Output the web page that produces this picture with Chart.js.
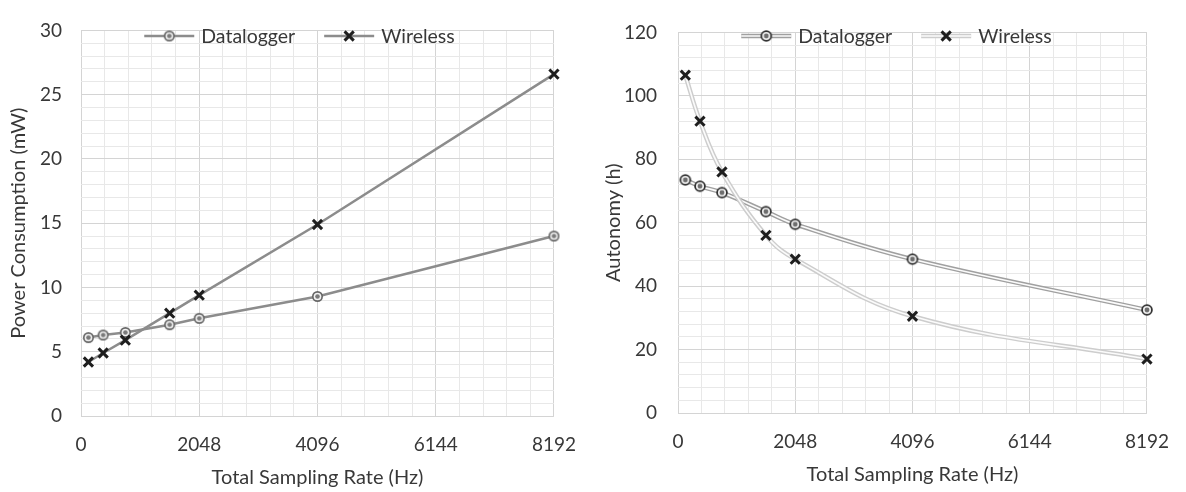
<!DOCTYPE html>
<html>
<head>
<meta charset="utf-8">
<script src="https://cdn.jsdelivr.net/npm/chart.js@4.4.0/dist/chart.umd.min.js"></script>
<style>
  html, body { margin: 0; padding: 0; background: #fff; }
  #wrap { display: flex; width: 1186px; height: 492px; }
  canvas { display: block; }
</style>
</head>
<body>
<div id="wrap">
  <canvas id="power" width="593" height="492"></canvas>
  <canvas id="autonomy" width="593" height="492"></canvas>
</div>
<script>
const samplingRates = [128, 384, 768, 1536, 2048, 4096, 8192];
const powerDatalogger = [6.1, 6.3, 6.5, 7.1, 7.6, 9.3, 14.0];
const powerWireless = [4.2, 4.9, 5.9, 8.0, 9.4, 14.9, 26.6];
const autonomyDatalogger = [73.5, 71.5, 69.5, 63.5, 59.5, 48.5, 32.5];
const autonomyWireless = [106.5, 92, 76, 56, 48.5, 30.5, 17];
const seriesNames = ['Datalogger', 'Wireless'];
const xTickLabels = [0, 2048, 4096, 6144, 8192];
const powerTickLabels = [0, 5, 10, 15, 20, 25, 30];
const autonomyTickLabels = [0, 20, 40, 60, 80, 100, 120];
const minorParts = 5;

const textColor = '#383838';
const fontFamily = 'Lato, "Open Sans", sans-serif';
Chart.defaults.font.family = fontFamily;
Chart.defaults.font.size = 19;
Chart.defaults.color = textColor;
const titleFont = { size: 20 };
const majorGrid = '#d4d4d4';
const minorGrid = '#e8e8e8';

// split each major interval into minor grid steps
function withMinor(majors) {
  const out = [];
  for (let i = 0; i < majors.length - 1; i++) {
    for (let k = 0; k < minorParts; k++) {
      out.push(k === 0 ? majors[i] : majors[i] + (majors[i + 1] - majors[i]) * k / minorParts);
    }
  }
  out.push(majors[majors.length - 1]);
  return out;
}

function toPoints(ys) {
  return samplingRates.map((x, i) => ({ x, y: ys[i] }));
}

function bullseye(outerColor, midColor, centerColor, r) {
  const c = document.createElement('canvas');
  const size = Math.ceil(r * 2 + 2);
  c.width = size;
  c.height = size;
  const g = c.getContext('2d');
  const m = size / 2;
  [[r, outerColor], [r * 0.7, midColor], [r * 0.42, centerColor]].forEach(([rad, col]) => {
    g.beginPath();
    g.arc(m, m, rad, 0, Math.PI * 2);
    g.fillStyle = col;
    g.fill();
  });
  return c;
}

const ringLeft = bullseye('#666666', '#f2f2f2', '#7a7a7a', 5.5);
const ringRight = bullseye('#333333', '#f0f0f0', '#6e6e6e', 5.8);

function drawCross(ctx, x, y, r, color) {
  const d = r * Math.SQRT1_2;
  ctx.save();
  ctx.strokeStyle = color;
  ctx.lineWidth = 3;
  ctx.beginPath();
  ctx.moveTo(x - d, y - d); ctx.lineTo(x + d, y + d);
  ctx.moveTo(x + d, y - d); ctx.lineTo(x - d, y + d);
  ctx.stroke();
  ctx.restore();
}

// legend drawn inside the plot, centred on the canvas like the original
const insideLegend = {
  id: 'insideLegend',
  afterDraw(chart, args, opts) {
    const ctx = chart.ctx;
    ctx.save();
    ctx.font = '19.5px ' + fontFamily;
    ctx.textBaseline = 'middle';
    const symW = 50, gap = 7, itemGap = 29;
    const widths = opts.items.map(it => symW + gap + ctx.measureText(it.label).width);
    const total = widths.reduce((a, b) => a + b, 0) + itemGap * (opts.items.length - 1);
    let x = chart.width / 2 + opts.shift - total / 2;
    const y = opts.y;
    opts.items.forEach((it, i) => {
      ctx.lineCap = 'butt';
      ctx.strokeStyle = it.lineColor;
      ctx.lineWidth = it.lineWidth;
      ctx.beginPath(); ctx.moveTo(x, y); ctx.lineTo(x + symW, y); ctx.stroke();
      if (it.innerColor) {
        ctx.strokeStyle = it.innerColor;
        ctx.lineWidth = it.innerWidth;
        ctx.beginPath(); ctx.moveTo(x, y); ctx.lineTo(x + symW, y); ctx.stroke();
      }
      if (it.marker === 'cross') drawCross(ctx, x + symW / 2, y, 6.5, '#1e1e1e');
      else ctx.drawImage(it.marker, x + symW / 2 - it.marker.width / 2, y - it.marker.height / 2);
      ctx.fillStyle = textColor;
      ctx.fillText(it.label, x + symW + gap, y + 1);
      x += widths[i] + itemGap;
    });
    ctx.restore();
  }
};

function xAxis(height, titleBottom) {
  const grid = withMinor(xTickLabels);
  return {
    type: 'linear', min: 0, max: 8192,
    afterBuildTicks: s => { s.ticks = grid.map(v => ({ value: v })); },
    afterFit: s => { s.height = height; },
    ticks: {
      autoSkip: false, maxRotation: 0, padding: 17, color: textColor,
      callback: v => xTickLabels.includes(v) ? String(v) : ''
    },
    grid: {
      drawTicks: false, lineWidth: 1,
      color: c => xTickLabels.includes(c.tick.value) ? majorGrid : minorGrid
    },
    border: { display: false },
    title: { display: true, text: 'Total Sampling Rate (Hz)', color: textColor, font: titleFont, padding: { top: 0, bottom: titleBottom } }
  };
}

function yAxis(majors, max, label, width, tickPad, titlePad) {
  const grid = withMinor(majors);
  return {
    type: 'linear', min: 0, max,
    afterBuildTicks: s => { s.ticks = grid.map(v => ({ value: v })); },
    afterFit: s => { s.width = width; },
    ticks: {
      autoSkip: false, padding: tickPad, color: textColor,
      callback: v => majors.includes(v) ? String(v) : ''
    },
    grid: {
      drawTicks: false, lineWidth: 1,
      color: c => majors.includes(c.tick.value) ? majorGrid : minorGrid
    },
    border: { display: false },
    title: { display: true, text: label, color: textColor, font: titleFont, padding: { top: titlePad, bottom: 0 } }
  };
}

new Chart(document.getElementById('power'), {
  type: 'line',
  plugins: [insideLegend],
  data: {
    datasets: [
      {
        label: seriesNames[1], data: toPoints(powerWireless),
        borderColor: '#8c8c8c', borderWidth: 2.5, tension: 0, clip: false,
        pointStyle: 'crossRot', pointRadius: 6.5, pointBorderWidth: 3, pointBorderColor: '#1e1e1e'
      },
      {
        label: seriesNames[0], data: toPoints(powerDatalogger),
        borderColor: '#8c8c8c', borderWidth: 2.5, tension: 0, clip: false,
        pointStyle: ringLeft, pointRadius: 5.5
      }
    ]
  },
  options: {
    responsive: false, animation: false, events: [],
    layout: { padding: { top: 14, right: 37, left: 0, bottom: 0 } },
    scales: {
      x: xAxis(76, 2),
      y: yAxis(powerTickLabels, 30, 'Power Consumption (mW)', 81, 19, 7)
    },
    plugins: {
      legend: { display: false }, tooltip: { enabled: false },
      insideLegend: {
        y: 36, shift: 3,
        items: [
          { label: seriesNames[0], lineColor: '#8c8c8c', lineWidth: 2.5, marker: ringLeft },
          { label: seriesNames[1], lineColor: '#8c8c8c', lineWidth: 2.5, marker: 'cross' }
        ]
      }
    }
  }
});

const dlOuter = '#a0a0a0', wlOuter = '#cdcdcd', inner = '#fbfbfb';

new Chart(document.getElementById('autonomy'), {
  type: 'line',
  plugins: [insideLegend],
  data: {
    datasets: [
      {
        label: seriesNames[1], data: toPoints(autonomyWireless), showLine: false, clip: false,
        pointStyle: 'crossRot', pointRadius: 6.5, pointBorderWidth: 3, pointBorderColor: '#1e1e1e'
      },
      { data: toPoints(autonomyWireless), borderColor: inner, borderWidth: 1.6, tension: 0.4, pointRadius: 0, clip: false },
      { data: toPoints(autonomyWireless), borderColor: wlOuter, borderWidth: 4.5, tension: 0.4, pointRadius: 0, clip: false },
      {
        label: seriesNames[0], data: toPoints(autonomyDatalogger), showLine: false, clip: false,
        pointStyle: ringRight, pointRadius: 5.8
      },
      { data: toPoints(autonomyDatalogger), borderColor: inner, borderWidth: 1.6, tension: 0.4, pointRadius: 0, clip: false },
      { data: toPoints(autonomyDatalogger), borderColor: dlOuter, borderWidth: 4.5, tension: 0.4, pointRadius: 0, clip: false }
    ]
  },
  options: {
    responsive: false, animation: false, events: [],
    layout: { padding: { top: 14, right: 33, left: 0, bottom: 0 } },
    scales: {
      x: xAxis(79, 5),
      y: yAxis(autonomyTickLabels, 120, 'Autonomy (h)', 85, 21, 9)
    },
    plugins: {
      legend: { display: false }, tooltip: { enabled: false },
      insideLegend: {
        y: 36, shift: 7,
        items: [
          { label: seriesNames[0], lineColor: dlOuter, lineWidth: 4.5, innerColor: inner, innerWidth: 1.6, marker: ringRight },
          { label: seriesNames[1], lineColor: wlOuter, lineWidth: 4.5, innerColor: inner, innerWidth: 1.6, marker: 'cross' }
        ]
      }
    }
  }
});
</script>
</body>
</html>
